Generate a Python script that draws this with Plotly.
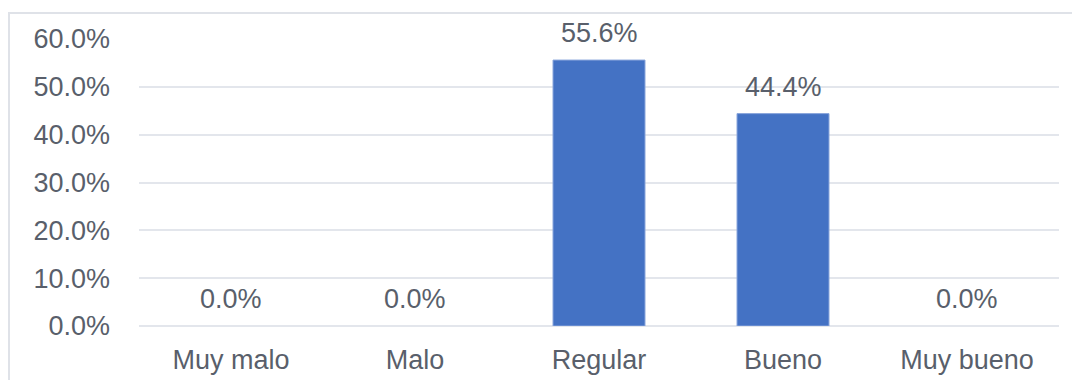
import plotly.graph_objects as go

categories = ["Muy malo", "Malo", "Regular", "Bueno", "Muy bueno"]
percentages = [0.0, 0.0, 55.6, 44.4, 0.0]
tick_values = [0, 10, 20, 30, 40, 50, 60]
tick_labels = ["0.0%", "10.0%", "20.0%", "30.0%", "40.0%", "50.0%", "60.0%"]

text_color = "#595f6b"
font_family = "Liberation Sans, Arial, sans-serif"
font_size = 27

fig = go.Figure(
    go.Bar(
        x=categories,
        y=percentages,
        width=0.5,
        marker=dict(
            color="#4472c4",
            line=dict(width=[1 if v > 0 else 0 for v in percentages], color="#8aa6dc"),
        ),
        hovertemplate="%{x}: %{y:.1f}%<extra></extra>",
    )
)

# value labels floating above each bar
for cat, val in zip(categories, percentages):
    fig.add_annotation(
        x=cat, y=val, text=f"{val:.1f}%", showarrow=False,
        yanchor="middle", yshift=27,
        font=dict(size=font_size, color=text_color, family=font_family),
    )

fig.update_layout(
    width=1072,
    height=380,
    margin=dict(l=139, r=13, t=39, b=54),
    paper_bgcolor="white",
    plot_bgcolor="white",
    showlegend=False,
    font=dict(family=font_family, size=font_size, color=text_color),
    shapes=[
        dict(
            type="rect", xref="paper", yref="paper",
            x0=-0.1413, x1=1.2, y0=-0.4, y1=1.0906,
            line=dict(color="#dfe2e8", width=2), layer="below",
        )
    ],
)

fig.update_xaxes(
    automargin=False,
    showgrid=False,
    showline=False,
    ticks="",
    ticklabelstandoff=15,
    tickfont=dict(size=font_size, color=text_color),
)
fig.update_yaxes(
    automargin=False,
    range=[0, 60],
    tickvals=tick_values,
    ticktext=tick_labels,
    showgrid=True,
    gridcolor="#e3e6ec",
    gridwidth=1.5,
    zeroline=True,
    zerolinecolor="#e3e6ec",
    zerolinewidth=1.5,
    showline=False,
    ticks="",
    ticklabelstandoff=28,
    tickfont=dict(size=font_size, color=text_color),
)

fig.write_html("out.html")
